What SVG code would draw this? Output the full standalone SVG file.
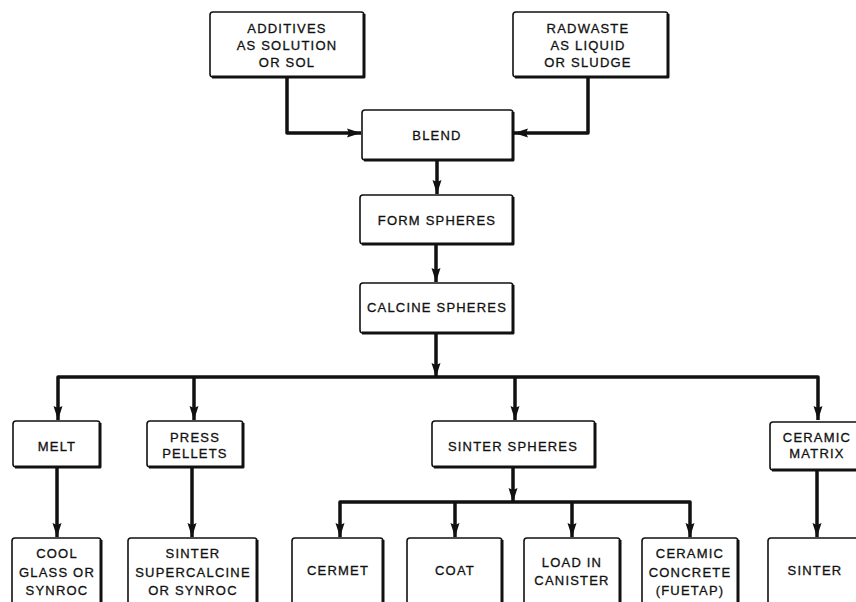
<svg xmlns="http://www.w3.org/2000/svg" width="856" height="602" viewBox="0 0 856 602">
<defs>
<style>
.box{fill:#fff;stroke:#111;stroke-width:1.6}
.sh{fill:none;stroke:#111;stroke-width:3;stroke-linejoin:round}
.t{font-family:"Liberation Sans",Arial,sans-serif;font-size:13px;letter-spacing:1.2px;fill:#111;text-anchor:middle;stroke:#111;stroke-width:0.3}
.c{fill:none;stroke:#111;stroke-width:3.5;stroke-linejoin:round}
</style>
<marker id="ah" markerUnits="userSpaceOnUse" markerWidth="16" markerHeight="12" viewBox="0 0 16 12" refX="15" refY="6" orient="auto-start-reverse">
<path d="M1,1.5 L15,6 L1,10.5 L3,6 Z" fill="#111"/>
</marker>
</defs>
<rect width="856" height="602" fill="#fff"/>

<g id="connectors">
<path class="c" d="M287,77 V133 H361" marker-end="url(#ah)"/>
<path class="c" d="M588,77 V133 H514" marker-end="url(#ah)"/>
<path class="c" d="M437,160 V194" marker-end="url(#ah)"/>
<path class="c" d="M436,244 V282" marker-end="url(#ah)"/>
<path class="c" d="M436,333 V377" marker-end="url(#ah)"/>
<path class="c" d="M58,420 V377 H818 V420" marker-start="url(#ah)" marker-end="url(#ah)"/>
<path class="c" d="M194,377 V420" marker-end="url(#ah)"/>
<path class="c" d="M515,377 V420" marker-end="url(#ah)"/>
<path class="c" d="M57,467 V537" marker-end="url(#ah)"/>
<path class="c" d="M192,467 V537" marker-end="url(#ah)"/>
<path class="c" d="M513,467 V502" marker-end="url(#ah)"/>
<path class="c" d="M340,537 V502 H690 V537" marker-start="url(#ah)" marker-end="url(#ah)"/>
<path class="c" d="M455,502 V537" marker-end="url(#ah)"/>
<path class="c" d="M572,502 V537" marker-end="url(#ah)"/>
<path class="c" d="M817,470 V537" marker-end="url(#ah)"/>
</g>

<g id="additives">
<rect class="box" x="210" y="12" width="154" height="65" rx="3"/>
<path class="sh" d="M364,14 V77 H212"/>
<text class="t" x="287" y="33">ADDITIVES</text>
<text class="t" x="287" y="50">AS SOLUTION</text>
<text class="t" x="287" y="67">OR SOL</text>
</g>
<g id="radwaste">
<rect class="box" x="513" y="12" width="155" height="65" rx="3"/>
<path class="sh" d="M668,14 V77 H515"/>
<text class="t" x="588" y="33">RADWASTE</text>
<text class="t" x="588" y="50">AS LIQUID</text>
<text class="t" x="588" y="67">OR SLUDGE</text>
</g>
<g id="blend">
<rect class="box" x="362" y="110" width="151" height="50" rx="3"/>
<path class="sh" d="M513,112 V160 H364"/>
<text class="t" x="437" y="140">BLEND</text>
</g>
<g id="form-spheres">
<rect class="box" x="360" y="195" width="153" height="49" rx="3"/>
<path class="sh" d="M513,197 V244 H362"/>
<text class="t" x="437" y="225">FORM SPHERES</text>
</g>
<g id="calcine-spheres">
<rect class="box" x="360" y="283" width="153" height="50" rx="3"/>
<path class="sh" d="M513,285 V333 H362"/>
<text class="t" x="437" y="312">CALCINE SPHERES</text>
</g>
<g id="melt">
<rect class="box" x="13" y="421" width="87" height="46" rx="3"/>
<path class="sh" d="M100,423 V467 H15"/>
<text class="t" x="57" y="451">MELT</text>
</g>
<g id="press-pellets">
<rect class="box" x="147" y="421" width="96" height="46" rx="3"/>
<path class="sh" d="M243,423 V467 H149"/>
<text class="t" x="195" y="442">PRESS</text>
<text class="t" x="195" y="458">PELLETS</text>
</g>
<g id="sinter-spheres">
<rect class="box" x="432" y="421" width="163" height="46" rx="3"/>
<path class="sh" d="M595,423 V467 H434"/>
<text class="t" x="513" y="451">SINTER SPHERES</text>
</g>
<g id="ceramic-matrix">
<rect class="box" x="770" y="422" width="90" height="48" rx="3"/>
<path class="sh" d="M772,470 H860"/>
<text class="t" x="817" y="442">CERAMIC</text>
<text class="t" x="817" y="458">MATRIX</text>
</g>
<g id="cool">
<rect class="box" x="12" y="538" width="89" height="80" rx="3"/>
<path class="sh" d="M101,540 V620"/>
<text class="t" x="57" y="558">COOL</text>
<text class="t" x="57" y="577">GLASS OR</text>
<text class="t" x="57" y="595">SYNROC</text>
</g>
<g id="sinter-supercalcine">
<rect class="box" x="128" y="538" width="129" height="80" rx="3"/>
<path class="sh" d="M257,540 V620"/>
<text class="t" x="193" y="558">SINTER</text>
<text class="t" x="193" y="577">SUPERCALCINE</text>
<text class="t" x="193" y="595">OR SYNROC</text>
</g>
<g id="cermet">
<rect class="box" x="292" y="538" width="91" height="80" rx="3"/>
<path class="sh" d="M383,540 V620"/>
<text class="t" x="338" y="575">CERMET</text>
</g>
<g id="coat">
<rect class="box" x="407" y="538" width="95" height="80" rx="3"/>
<path class="sh" d="M502,540 V620"/>
<text class="t" x="455" y="575">COAT</text>
</g>
<g id="load-in-canister">
<rect class="box" x="524" y="538" width="96" height="80" rx="3"/>
<path class="sh" d="M620,540 V620"/>
<text class="t" x="572" y="567">LOAD IN</text>
<text class="t" x="572" y="585">CANISTER</text>
</g>
<g id="ceramic-concrete">
<rect class="box" x="642" y="538" width="96" height="80" rx="3"/>
<path class="sh" d="M738,540 V620"/>
<text class="t" x="690" y="558">CERAMIC</text>
<text class="t" x="690" y="577">CONCRETE</text>
<text class="t" x="690" y="595">(FUETAP)</text>
</g>
<g id="sinter">
<rect class="box" x="768" y="538" width="92" height="80" rx="3"/>
<text class="t" x="815" y="575">SINTER</text>
</g>
</svg>
